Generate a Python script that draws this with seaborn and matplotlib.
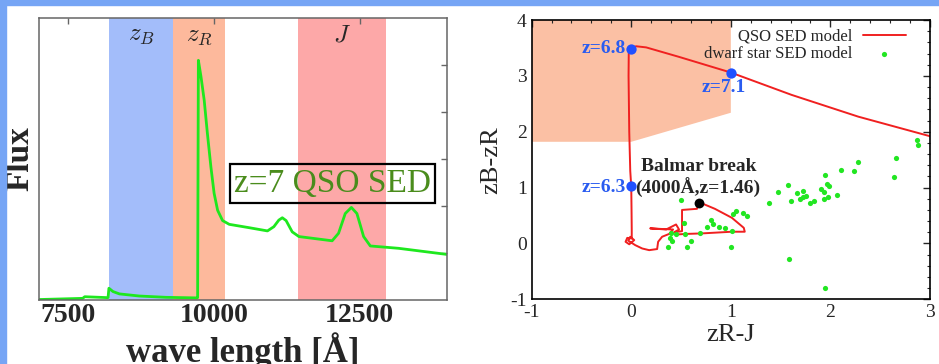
import pandas as pd
import matplotlib
matplotlib.use("Agg")
import matplotlib.pyplot as plt
from matplotlib.patches import Rectangle
from matplotlib.ticker import MultipleLocator
import seaborn as sns

# ---- left panel: z=7 QSO spectrum and filter bands ----
wave = [7000, 7750, 7785, 8185, 8200, 8270, 8380, 8720, 9180, 9700,
        9722, 9735, 9780, 9835, 9890, 9950, 10005, 10065, 10150, 10265,
        10600, 10920, 11030, 11115, 11175, 11240, 11345, 11460, 12030, 12140,
        12255, 12360, 12455, 12570, 12685, 13170, 14000]
flux = [0.01, 0.035, 0.07, 0.05, 0.25, 0.18, 0.13, 0.085, 0.057, 0.045,
        0.05, 5.10, 4.75, 4.25, 3.54, 2.83, 2.27, 1.91, 1.69, 1.61,
        1.54, 1.47, 1.56, 1.70, 1.75, 1.69, 1.45, 1.35, 1.26, 1.42,
        1.84, 1.97, 1.84, 1.35, 1.15, 1.10, 0.97]

band_names = ["$z_B$", "$z_R$", "$J$"]
band_lo = [8200, 9300, 11450]
band_hi = [9300, 10200, 12950]
band_colors = ["#a3bdfa", "#fdb99c", "#fda8a8"]

# ---- right panel: colour-colour diagram ----
qso_x = [3.00, 2.28, 1.61, 1.00, 0.48, 0.15, 0.05, -0.01, -0.025, -0.027,
         -0.02, -0.01, 0.00, 0.003, 0.005, 0.005, -0.04, -0.057, -0.02, 0.03,
         -0.01, -0.03, 0.04, 0.11, 0.18, 0.26, 0.27, 0.31, 0.38, 0.42,
         0.30, 0.19, 0.35, 0.45, 0.48, 0.43, 0.51, 0.51, 0.66, 0.68,
         0.84, 1.01, 1.13, 1.14, 1.01, 0.71, 0.54, 0.45]
qso_y = [1.92, 2.27, 2.66, 3.06, 3.34, 3.51, 3.53, 3.50, 3.40, 3.00,
         2.00, 1.30, 1.02, 0.60, 0.25, 0.09, 0.10, 0.03, -0.015, 0.06,
         0.12, 0.05, -0.03, -0.09, -0.12, -0.10, 0.03, 0.12, 0.17, 0.25,
         0.26, 0.27, 0.25, 0.34, 0.25, 0.20, 0.22, 0.60, 0.62, 0.74,
         0.62, 0.46, 0.28, 0.21, 0.21, 0.18, 0.17, 0.16]

star_x = [2.867, 2.883, 2.654, 2.634, 2.274, 2.234, 2.104, 1.950, 1.970, 1.987,
          1.910, 1.937, 1.937, 1.977, 2.067, 1.840, 1.794, 1.664, 1.727, 1.757,
          1.724, 1.690, 1.574, 1.600, 1.477, 1.384, 1.587, 1.944, 1.160, 1.120,
          1.047, 1.024, 1.014, 0.944, 0.877, 1.004, 0.503, 0.527, 0.797, 0.817,
          0.760, 0.687, 0.540, 0.600, 0.560, 0.450, 0.400, 0.390, 0.410, 0.367]
star_y = [1.85, 1.77, 1.536, 1.196, 1.464, 1.303, 1.315, 1.231, 1.065, 1.029,
          0.975, 0.921, 0.796, 0.837, 0.873, 0.766, 0.730, 0.910, 0.934, 0.855,
          0.826, 0.791, 1.041, 0.755, 0.927, 0.725, -0.272, -0.791, 0.492, 0.551,
          0.576, 0.533, 0.223, 0.272, 0.290, -0.063, 0.778, 0.361, 0.420, 0.343,
          0.295, 0.188, 0.165, 0.044, -0.069, 0.175, 0.193, 0.104, 0.050, -0.069]

z_labels = ["z=6.8", "z=7.1", "z=6.3"]
z_x = [0.0, 1.0, 0.0]
z_y = [3.49, 3.05, 1.02]
balmer_x = [0.68]
balmer_y = [0.73]

# selection box for z~7 quasars
sel_x = [-1, 1, 1, 0, -1]
sel_y = [4, 4, 2.34, 1.82, 1.82]

sns.set_style("white")
plt.rcParams["font.family"] = ["Liberation Serif", "DejaVu Serif"]
plt.rcParams["mathtext.fontset"] = "cm"
plt.rcParams["axes.unicode_minus"] = False

fig = plt.figure(figsize=(9.39, 3.64), dpi=100)
fig.patches.append(Rectangle((0, 1 - 5 / 364), 1, 5 / 364, transform=fig.transFigure,
                             color="#76a5f5", zorder=0))
fig.patches.append(Rectangle((0, 0), 6 / 939, 1, transform=fig.transFigure,
                             color="#76a5f5", zorder=0))

# left panel
ax1 = fig.add_axes([0.0415, 0.1758, 0.4345, 0.7747])
for name, lo, hi, c in zip(band_names, band_lo, band_hi, band_colors):
    ax1.axvspan(lo, hi, color=c, lw=0, zorder=0)
    ax1.text((lo + hi) / 2, 5.62, name, ha="center", va="center", fontsize=18)
sns.lineplot(x=wave, y=flux, ax=ax1, color="#1ee81e", lw=2.0, sort=False, estimator=None)
ax1.text(12040, 2.48, "z=7 QSO SED", color="#4a8c1c", fontsize=24, ha="center", va="center",
         bbox=dict(boxstyle="square,pad=0.12", fc="none", ec="black", lw=1.6))
ax1.set_xlim(7000, 14000)
ax1.set_ylim(0, 6)
ax1.set_xticks([7500, 10000, 12500])
ax1.set_yticks([1, 2, 3, 4, 5])
ax1.set_yticklabels([])
ax1.tick_params(direction="in", top=True, right=True, length=4, color="#666666", width=1)
for lab in ax1.get_xticklabels():
    lab.set_fontweight("bold")
    lab.set_fontsize(20)
ax1.tick_params(axis="x", pad=2)
for s in ax1.spines.values():
    s.set_color("#666666")
    s.set_linewidth(1.1)
ax1.set_xlabel("wave length [Å]", fontsize=25, fontweight="bold", labelpad=3)
ax1.set_ylabel("Flux", fontsize=24, fontweight="bold")
ax1.yaxis.set_label_coords(-0.008, 0.5)

# right panel
ax2 = fig.add_axes([0.5662, 0.1777, 0.4242, 0.7673])
ax2.fill(sel_x, sel_y, color="#fbc0a4", lw=0, zorder=0)
sns.lineplot(x=qso_x, y=qso_y, ax=ax2, color="#f02020", lw=1.4, sort=False,
             estimator=None, label="QSO SED model")
sns.scatterplot(x=star_x, y=star_y, ax=ax2, color="#22e622", s=14, linewidth=0,
                label="dwarf star SED model", zorder=3)
sns.scatterplot(x=z_x, y=z_y, ax=ax2, color="#2050ff", s=55, linewidth=0, zorder=4)
sns.scatterplot(x=balmer_x, y=balmer_y, ax=ax2, color="black", s=50, linewidth=0, zorder=4)

blue = "#2a5cf0"
ax2.text(-0.05, 3.49, z_labels[0], color=blue, fontsize=14, fontweight="bold", ha="right", va="center")
ax2.text(0.93, 2.80, z_labels[1], color=blue, fontsize=14, fontweight="bold", ha="center", va="center")
ax2.text(-0.05, 1.00, z_labels[2], color=blue, fontsize=14, fontweight="bold", ha="right", va="center")
ax2.text(0.68, 1.38, "Balmar break", fontsize=14, fontweight="bold", ha="center", va="center")
ax2.text(0.67, 0.99, "(4000Å,z=1.46)", fontsize=14, fontweight="bold", ha="center", va="center")

ax2.set_xlim(-1, 3)
ax2.set_ylim(-1, 4)
ax2.xaxis.set_major_locator(MultipleLocator(1))
ax2.yaxis.set_major_locator(MultipleLocator(1))
ax2.xaxis.set_minor_locator(MultipleLocator(0.2))
ax2.yaxis.set_minor_locator(MultipleLocator(0.2))
ax2.tick_params(which="both", direction="in", top=True, right=True, labelsize=14)
ax2.tick_params(which="major", length=5, width=1)
ax2.tick_params(which="minor", length=2.5, width=0.8)
for s in ax2.spines.values():
    s.set_color("black")
    s.set_linewidth(1.2)
ax2.set_xlabel("zR-J", fontsize=19, labelpad=2)
ax2.set_ylabel("zB-zR", fontsize=19, labelpad=6)
ax2.legend(loc="upper right", bbox_to_anchor=(0.965, 1.005), frameon=False, markerfirst=False,
           fontsize=12, handlelength=2.6, labelspacing=0.1, handletextpad=0.6,
           borderaxespad=0.2, scatterpoints=1)

fig.savefig("out.png", dpi=100)
